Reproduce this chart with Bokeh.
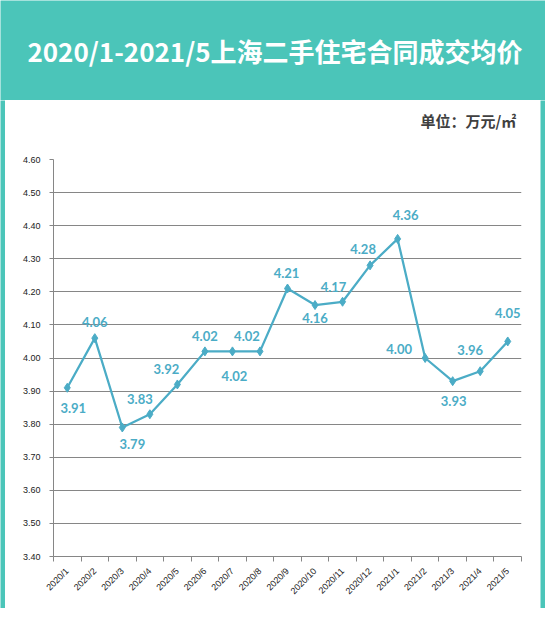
import math
from bokeh.plotting import figure
from bokeh.layouts import column, row
from bokeh.models import ColumnDataSource, Range1d, FixedTicker
from bokeh.core.properties import value
from bokeh.embed import file_html
from bokeh.resources import INLINE

# ---------------- data ----------------
months = ["2020/1", "2020/2", "2020/3", "2020/4", "2020/5", "2020/6", "2020/7", "2020/8",
          "2020/9", "2020/10", "2020/11", "2020/12", "2021/1", "2021/2", "2021/3", "2021/4", "2021/5"]
prices = [3.91, 4.06, 3.79, 3.83, 3.92, 4.02, 4.02, 4.02,
          4.21, 4.16, 4.17, 4.28, 4.36, 4.00, 3.93, 3.96, 4.05]
y_ticks = [3.40, 3.50, 3.60, 3.70, 3.80, 3.90, 4.00, 4.10, 4.20, 4.30, 4.40, 4.50, 4.60]
title_text = "2020/1-2021/5上海二手住宅合同成交均价"
unit_text = "单位：万元/㎡"

# label offsets (screen px, y down) - placement only
label_dx = [6, 0, 10, -10, -11, 0, 2, -13, -1, 0, -9, -7, 8, -26, 1, -10, 0]
label_dy = [20, -16, 17, -15, -15, -15, 25, -15, -16, 13, -15, -16, -24, -9, 20, -21, -28]

# ---------------- style ----------------
TEAL = "#4BC5B9"
LINE = "#4BACC6"
GRID = "#868686"
TOTAL_W = 545
TITLE_H = 100
SIDE = 5
INNER_W = TOTAL_W - 2 * SIDE
UNIT_H = 51
MAIN_H = 457
BL, BR, BT, BB = 48, 19, 8, 52


def strip(w, h, color):
    f = figure(width=w, height=h, output_backend="svg", toolbar_location=None,
               x_axis_location=None, y_axis_location=None,
               x_range=Range1d(0, w), y_range=Range1d(0, h),
               min_border=0, min_border_left=0, min_border_right=0,
               min_border_top=0, min_border_bottom=0)
    f.background_fill_color = color
    f.border_fill_color = color
    f.outline_line_color = None
    f.grid.visible = False
    return f


# title bar
tfig = strip(TOTAL_W, TITLE_H, TEAL)
tfig.text(x=[TOTAL_W / 2 + 2], y=[TITLE_H / 2], text=[title_text],
          text_font=value("Noto Sans CJK SC"), text_font_size="26px",
          text_font_style="bold", text_color="white",
          text_align="center", text_baseline="middle")

# unit strip
ufig = strip(INNER_W, UNIT_H, "white")
ufig.text(x=[INNER_W - 6], y=[UNIT_H - 20], text=[unit_text],
          text_font=value("Noto Sans CJK SC"), text_font_size="15px",
          text_font_style="bold", text_color="#404040",
          text_align="right", text_baseline="middle")

idx = list(range(len(months)))
src = ColumnDataSource(dict(
    x=idx, y=prices, label=["%.2f" % v for v in prices], dx=label_dx, dy=label_dy))

p = figure(width=INNER_W, height=MAIN_H, output_backend="svg", toolbar_location=None,
           x_range=Range1d(-0.5, len(months) - 0.5),
           y_range=Range1d(y_ticks[0], y_ticks[-1]),
           min_border_left=BL, min_border_right=BR, min_border_top=BT, min_border_bottom=BB)
p.border_fill_color = "white"
p.background_fill_color = "white"
p.outline_line_color = None

# axes
p.xgrid.visible = False
p.ygrid.ticker = FixedTicker(ticks=y_ticks)
p.ygrid.grid_line_color = GRID
p.ygrid.grid_line_width = 1

xa = p.xaxis[0]
xa.ticker = FixedTicker(ticks=idx, minor_ticks=[i - 0.5 for i in range(len(months) + 1)])
xa.major_label_overrides = {i: m for i, m in zip(idx, months)}
xa.major_label_orientation = math.pi / 4
xa.major_tick_in = 0
xa.major_tick_out = 0
xa.minor_tick_in = 0
xa.minor_tick_out = 5
xa.minor_tick_line_color = GRID
xa.axis_line_color = GRID
xa.major_label_standoff = 8
xa.major_label_text_font = "Liberation Sans"
xa.major_label_text_font_size = "9px"
xa.major_label_text_color = "#222222"

ya = p.yaxis[0]
ya.ticker = FixedTicker(ticks=y_ticks)
ya.major_label_overrides = {t: "%.2f" % t for t in y_ticks}
ya.minor_tick_line_color = None
ya.major_tick_in = 0
ya.major_tick_out = 4
ya.major_tick_line_color = GRID
ya.axis_line_color = GRID
ya.major_label_standoff = 9
ya.major_label_text_font = "Liberation Sans"
ya.major_label_text_font_size = "9px"
ya.major_label_text_color = "#222222"

# series
p.line("x", "y", source=src, line_color=LINE, line_width=2.25)
p.scatter("x", "y", source=src, marker="diamond", size=9, fill_color=LINE, line_color=LINE)
p.text("x", "y", text="label", source=src, x_offset="dx", y_offset="dy",
       text_font=value("Lato"), text_font_size="13px", text_font_style="bold",
       text_color=LINE, text_align="center", text_baseline="middle")

layout = column(
    tfig,
    row(strip(SIDE, UNIT_H + MAIN_H, TEAL), column(ufig, p, spacing=0),
        strip(SIDE, UNIT_H + MAIN_H, TEAL), spacing=0),
    strip(TOTAL_W, SIDE, TEAL),
    spacing=0,
)

open("out.html", "w").write(file_html(layout, INLINE))
